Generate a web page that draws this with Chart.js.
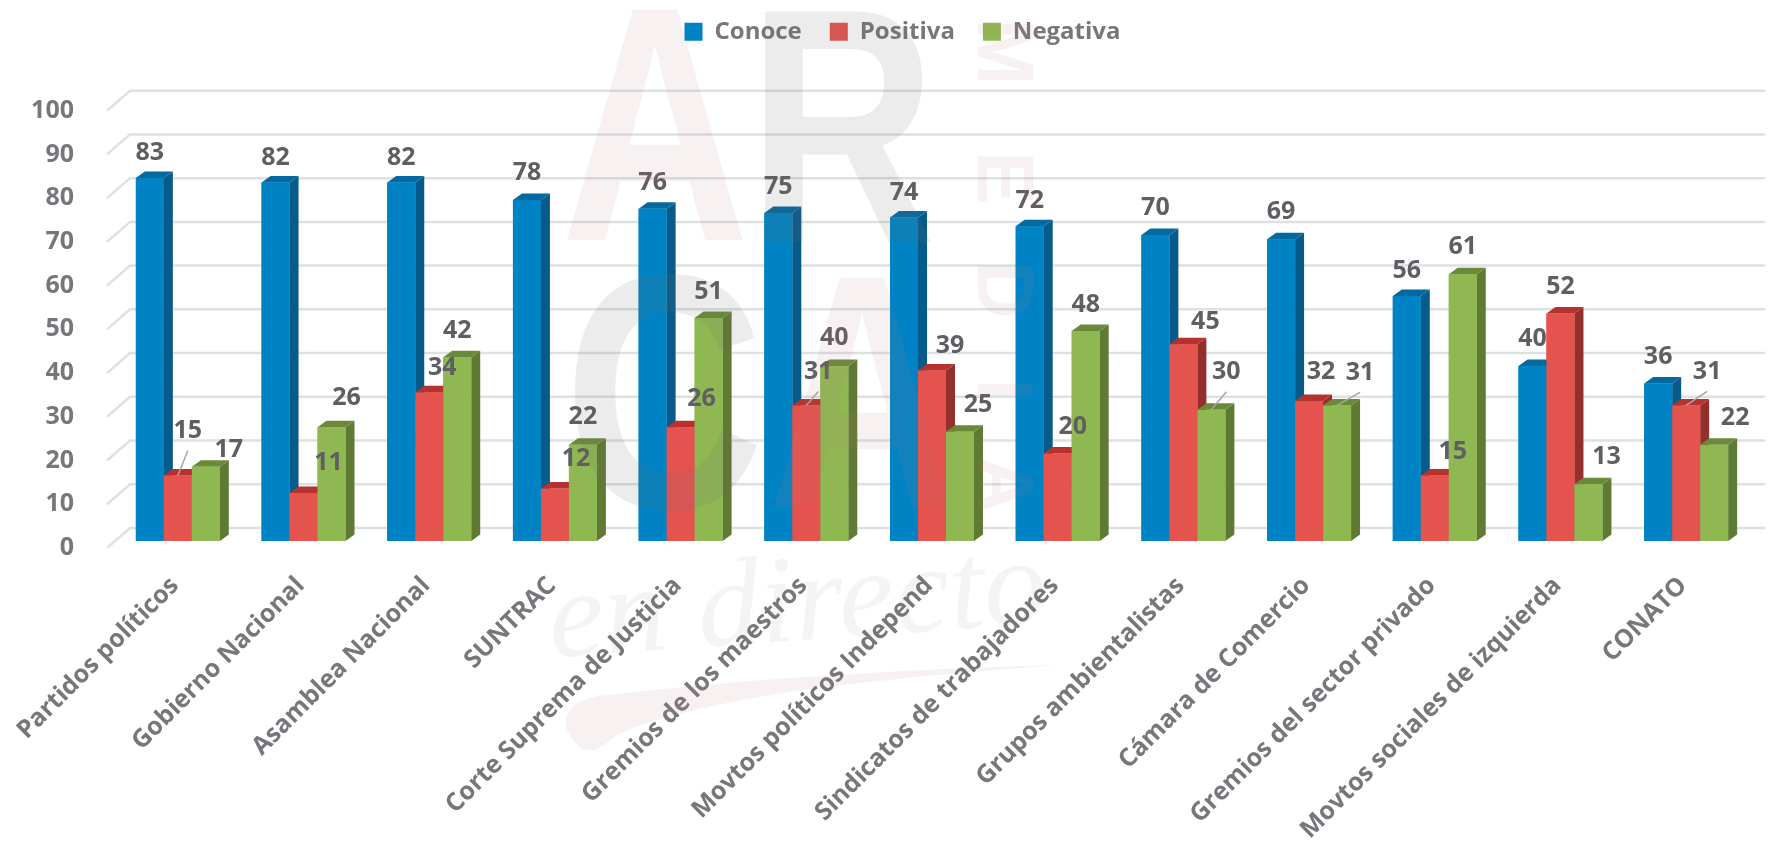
<!DOCTYPE html>
<html lang="es"><head><meta charset="utf-8">
<script src="https://cdn.jsdelivr.net/npm/chart.js@4"></script>
<style>html,body{margin:0;padding:0;background:#fff}#w{position:relative;width:1771px;height:844px}canvas{display:block}</style>
</head><body><div id="w"><canvas id="c" width="1771" height="844"></canvas></div>
<script>
const categories=["Partidos políticos","Gobierno Nacional","Asamblea Nacional","SUNTRAC","Corte Suprema de Justicia","Gremios de los maestros","Movtos políticos Independ","Sindicatos de trabajadores","Grupos ambientalistas","Cámara de Comercio","Gremios del sector privado","Movtos sociales de izquierda","CONATO"];
const conoce=[83,82,82,78,76,75,74,72,70,69,56,40,36];
const positiva=[15,11,34,12,26,31,39,20,45,32,15,52,31];
const negativa=[17,26,42,22,51,40,25,48,30,31,61,13,22];
const yTicks=[0,10,20,30,40,50,60,70,80,90,100];

// manual data-label nudges, as placed in the original
const labelDx=[[0,0,0,0,0,0,0,0,0,0,0,0,0],[10,25,13,21,21,12,18,15,22,12,18,0,21],[23,15,0,0,0,0,18,0,15,23,0,18,21]];
const labelDy=[[-25,-25,-25,-27,-26,-26,-25,-25,-27,-27,-25,-27,-27],[-45,-30,-24,-30,-28,-34,-25,-27,-22,-29,-24,-27,-34],[-17,-29,-26,-28,-26,-28,-27,-26,-38,-33,-27,-27,-27]];
const leaders=[[1,0],[1,5],[1,12],[2,8],[2,9]];

const FRONT=['#0083c4','#e5534f','#8fb852'],SIDE=['#075b8a','#952f2b','#5f7a33'],TOP=['#05699f','#b5322e','#6a8a39'];
const DX=9,DY=6.5,FONT='"Open Sans"',GREY='#77777b';

const base3d={id:'base3d',
 afterLayout(chart){const l=chart.legend; l.top-=50; l.bottom-=50; l.left+=14; l.right+=14;},
 beforeDatasetsDraw(chart){
  const c=chart.ctx,y=chart.scales.y;c.save();
  c.strokeStyle='#dde1e3';c.lineWidth=2.5;
  y.ticks.forEach(t=>{const p=y.getPixelForValue(t.value);
   c.beginPath();c.moveTo(107,p+7);c.lineTo(130,p-13);c.lineTo(1765,p-13);c.stroke();});
  c.restore();
 },
 afterDatasetsDraw(chart){
  const c=chart.ctx;c.save();
  const metas=[0,1,2].map(i=>chart.getDatasetMeta(i));
  categories.forEach((_,k)=>{
   metas.forEach((m,s)=>{
    const b=m.data[k],l=b.x-b.width/2,r=b.x+b.width/2,t=b.y,bt=b.base;
    c.fillStyle=SIDE[s];c.beginPath();c.moveTo(r,t);c.lineTo(r+DX,t-DY);c.lineTo(r+DX,bt-DY);c.lineTo(r,bt);c.closePath();c.fill();
    c.fillStyle=TOP[s];c.beginPath();c.moveTo(l,t);c.lineTo(l+DX,t-DY);c.lineTo(r+DX,t-DY);c.lineTo(r,t);c.closePath();c.fill();
    c.fillStyle=FRONT[s];c.fillRect(l,t,r-l,bt-t);
   });
  });
  // leader lines
  c.strokeStyle='#a6a6a6';c.lineWidth=1.5;
  leaders.forEach(([s,k])=>{const b=metas[s].data[k];
   c.beginPath();c.moveTo(b.x+labelDx[s][k],b.y+labelDy[s][k]+20);c.lineTo(b.x,b.y);c.stroke();});
  // data labels
  c.font='700 25px '+FONT;c.fillStyle='#5f5f63';c.textAlign='center';c.textBaseline='middle';
  metas.forEach((m,s)=>m.data.forEach((b,k)=>{
   c.fillText(chart.data.datasets[s].data[k],b.x+labelDx[s][k],b.y+labelDy[s][k]);}));
  c.restore();
 },
 afterDraw(chart){
  const c=chart.ctx;c.save();
  const pink='rgba(190,120,120,.10)',gray='rgba(110,110,110,.13)';
  const glyph=(txt,x,base,size,col,sx,rot)=>{c.save();c.translate(x,base);if(rot)c.rotate(rot);c.scale(sx||1,1);c.font='700 '+size+'px "Liberation Sans"';c.fillStyle=col;c.textAlign='center';c.textBaseline='alphabetic';c.fillText(txt,0,0);c.restore();};
  glyph('A',655,240,335,pink,.78);
  glyph('R',842,242,335,gray,.78);
  glyph('C',664,508,335,gray,.83);
  glyph('A',862,508,335,pink,.78);
  [['M',52],['E',178],['D',290],['I',390],['A',485]].forEach(([t,y])=>glyph(t,978,y,80,pink,1,Math.PI/2));
  c.save();c.translate(800,640);c.rotate(-.07);
  c.font='italic 400 125px "Liberation Serif"';c.fillStyle='rgba(110,110,110,.08)';c.textAlign='center';c.textBaseline='alphabetic';
  c.fillText('en directo',0,0);c.restore();
  c.fillStyle=pink;c.beginPath();c.moveTo(1062,665);c.quadraticCurveTo(800,672,600,696);c.quadraticCurveTo(560,702,567,730);c.quadraticCurveTo(585,765,610,740);c.quadraticCurveTo(640,716,800,690);c.quadraticCurveTo(950,672,1062,665);c.fill();
  c.restore();
 }
};

new Chart(document.getElementById('c'),{type:'bar',
 data:{labels:categories,datasets:[
  {label:'Conoce',data:conoce,backgroundColor:FRONT[0]},
  {label:'Positiva',data:positiva,backgroundColor:FRONT[1]},
  {label:'Negativa',data:negativa,backgroundColor:FRONT[2]}]},
 plugins:[base3d],
 options:{responsive:false,animation:false,
  layout:{autoPadding:false,padding:{left:28,right:22,top:41.7,bottom:0}},
  datasets:{bar:{barPercentage:1,categoryPercentage:.668,borderWidth:0}},
  plugins:{tooltip:{enabled:false},
   legend:{position:'top',labels:{boxWidth:18,boxHeight:18,padding:28,color:GREY,font:{family:FONT,size:24,weight:'700'}}}},
  scales:{
   x:{grid:{display:false},border:{display:false},afterFit(s){s.height=303;s.paddingLeft=0;s.paddingRight=0;},
    ticks:{autoSkip:false,minRotation:45,maxRotation:45,padding:22,labelOffset:-3,color:GREY,font:{family:FONT,size:25,weight:'700'}}},
   y:{min:0,max:100,afterBuildTicks(s){s.ticks=yTicks.map(v=>({value:v}));},grid:{display:false},border:{display:false},afterFit(s){s.width=87;},
    ticks:{labelOffset:7,padding:33,color:GREY,font:{family:FONT,size:25,weight:'700'}}}
  }}});
</script></body></html>
